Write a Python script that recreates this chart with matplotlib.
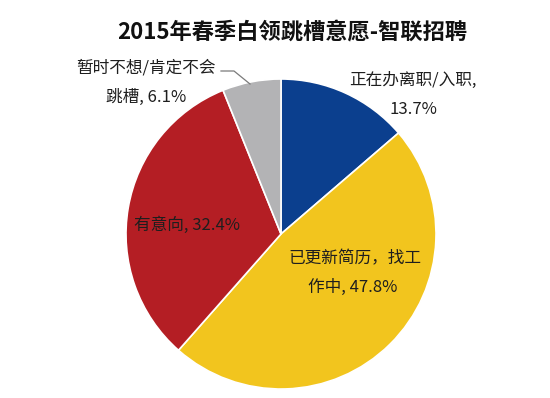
import matplotlib.pyplot as plt

plt.rcParams['font.family'] = ['Noto Sans CJK SC', 'DejaVu Sans']

# 数据
categories = ["正在办离职/入职", "已更新简历，找工作中", "有意向", "暂时不想/肯定不会跳槽"]
values = [13.7, 47.8, 32.4, 6.1]
colors = ["#0B3F8E", "#F2C51E", "#B41E24", "#B3B3B5"]
label_lines = [["正在办离职/入职,", "13.7%"],
               ["已更新简历，找工", "作中, 47.8%"],
               ["有意向, 32.4%"],
               ["暂时不想/肯定不会", "跳槽, 6.1%"]]

fig = plt.figure(figsize=(5.5, 3.98), dpi=100)
ax = fig.add_axes([0, 0, 1, 1])

wedges, _ = ax.pie(values, colors=colors, startangle=90, counterclock=False,
                   radius=1.0, wedgeprops=dict(edgecolor="white", linewidth=1.2))

# 像素 -> 数据坐标 (圆心约 281,234，半径约 155px)
ax.set_xlim(-281 / 155, (550 - 281) / 155)
ax.set_ylim((234 - 398) / 155, 234 / 155)
ax.set_aspect("auto")
ax.axis("off")

def p(px, py):
    return ((px - 281) / 155, (234 - py) / 155)

# 标签位置（每行中心，像素）
label_pos = [[(413, 80), (413, 109)],
             [(355, 259), (353, 287)],
             [(187, 225)],
             [(146, 68), (146, 97)]]

fs = 12
for lines, poss in zip(label_lines, label_pos):
    for txt, (px, py) in zip(lines, poss):
        ax.text(*p(px, py), txt, ha="center", va="center", fontsize=fs,
                color="#1e1e1e")

# 引导线
ax.plot(*zip(p(221, 71), p(234, 71), p(250, 84)), color="#7a7a7a", lw=0.9)

fig.text(292 / 550, 1 - 33 / 398, "2015年春季白领跳槽意愿-智联招聘",
         ha="center", va="center", fontsize=16, fontweight="bold", color="#111111")

fig.savefig("out.png", dpi=100)
